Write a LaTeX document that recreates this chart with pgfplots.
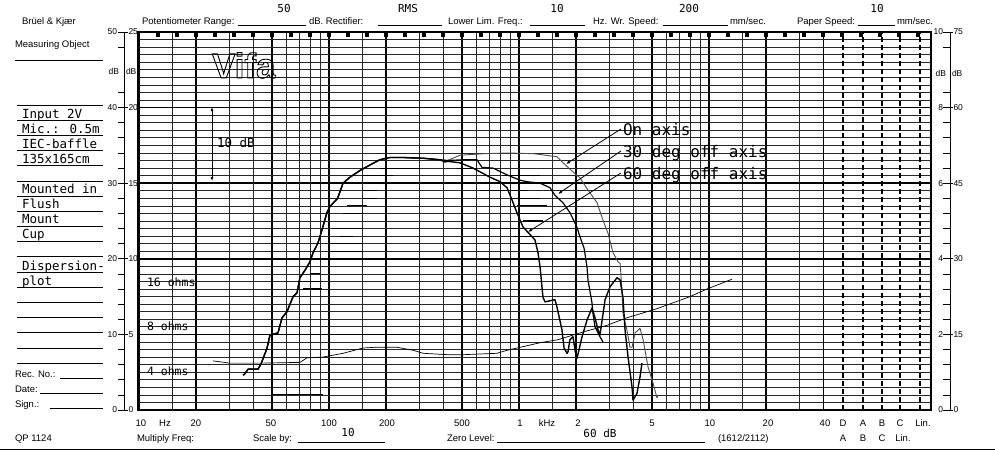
\documentclass[border=0pt]{standalone}
\usepackage{pgfplots}
\pgfplotsset{compat=1.18}
\usepackage{fontspec}
\setmainfont{Liberation Sans}
\newfontfamily\typed{DejaVu Sans Mono}
\usetikzlibrary{arrows.meta}
\newcommand\lab{\fontsize{9.5bp}{11bp}\selectfont}
\newcommand\sml{\fontsize{8.5bp}{10bp}\selectfont}
\newcommand\hdr{\typed\fontsize{11bp}{13bp}\selectfont}
\newcommand\typ{\typed\fontsize{12.5bp}{14bp}\selectfont}
\newcommand\ohm{\typed\fontsize{11.5bp}{13bp}\selectfont}
\newcommand\ann{\typed\fontsize{16bp}{18bp}\selectfont}
\begin{document}
\begin{tikzpicture}
\path[use as bounding box] (0,0) rectangle (995bp,-451bp);
\begin{axis}[
  at={(138bp,-410bp)}, anchor=south west,
  scale only axis, width=793bp, height=378bp,
  xmode=log, xmin=9.88, xmax=147350, ymin=0, ymax=50,
  axis line style={line width=1.5bp, black},
  xtick={10,20,50,100,200,500,1000,2000,5000,10000,20000,40000},
  minor xtick={15,30,40,60,70,80,90,150,300,400,600,700,800,900,1500,3000,4000,6000,7000,8000,9000,15000,30000},
  ytick={0,10,20,30,40,50},
  minor ytick={1,2,...,49},
  xticklabels={}, yticklabels={},
  major tick length=0pt, minor tick length=0pt,
  grid=both,
  major grid style={line width=1.5bp, black},
  minor grid style={line width=0.75bp, black!85},
  extra x ticks={50700,64700,81400,101200,129000},
  extra x tick labels={},
  extra x tick style={xmajorgrids=true, major grid style={line width=1.3bp, black, dash pattern=on 5.5bp off 2.5bp}},
  every axis plot/.append style={no marks, line join=round},
]
% pen-drag hatching strokes along grid lines
\addplot[black, line width=1.1bp, unbounded coords=jump] coordinates {
(185,32) (301,32) (301,nan)
(151,31) (217,31) (217,nan)
(151,30) (179,30) (179,nan)
(151,29) (179,29) (179,nan)
(151,28) (179,28) (179,nan)
(124,27) (158,27) (158,nan)
(118,26) (151,26) (151,nan)
(105,24) (151,24) (151,nan)
(114,23) (134,23) (134,nan)
(101,22) (151,22) (151,nan)
(101,21) (151,21) (151,nan)
(79,18) (90,18) (90,nan)
(70,17) (92,17) (92,nan)
(73,16) (92,16) (92,nan)
(51,2) (93,2) (93,nan)
(472,32) (601,32) (601,nan)
(824,31) (1291,31) (1291,nan)
(1012,30) (1291,30) (1291,nan)
(623,29) (1102,29) (1102,nan)
(930,28) (1291,28) (1291,nan)
(975,27) (1404,27) (1404,nan)
(1012,26) (1456,26) (1456,nan)
(1050,25) (1337,25) (1337,nan)
(623,24) (1050,24) (1050,nan)
(930,23) (1291,23) (1291,nan)
(975,22) (1291,22)
};
% impedance
\addplot[black, line width=0.7bp] coordinates {
(24.5,6.5) (30.1,6.2) (45,6.2) (70.3,6.3) (76.6,6.9) (92.9,7.0) (118.5,7.5) (151,8.2) (175,8.3) (228,8.3) (277,7.9) (313,7.5) (434,7.3) (489,7.3) (766,7.5) (865,7.9) (1291,8.9) (1603,9.3) (2094,10.2) (2904,11.2) (3698,12.2) (5321,13.4) (7943,15.0) (9750,16.0) (12900,17.2) (13210,17.3)
};
% on axis
\addplot[black!70, line width=0.9bp] coordinates {
(35.3,4.6) (36.1,4.8) (37.5,5.4) (42.3,5.4) (43.9,6.1) (47.2,8.2) (48.9,9.9) (53.9,10.2) (56.6,12.2) (60.1,13.0) (64.7,15.0) (67.9,15.5) (70.3,17.5) (74.8,18.5) (79.4,19.6) (82.4,20.8) (87.5,22.1) (91.8,23.8) (97.5,26.1) (101,26.9) (111,28.0) (118.5,30.0) (129,30.8) (146,31.7) (164,32.4) (185,33.1) (209,33.4) (245,33.4) (313,33.3) (384,33.1)
(420,33.0) (489,33.7) (650,33.9) (865,34.0) (1200,33.9) (1585,33.5) (1706,32.7) (1923,31.5) (2094,30.7) (2307,29.1) (2576,27.4) (2767,25.1) (2938,23.4) (3126,20.8) (3320,19.6) (3404,19.4) (3483,15.9) (3524,12.8) (3698,10.6) (3837,8.3) (3936,8.3) (4083,10.2) (4335,10.8) (4498,9.3) (4775,5.7) (5070,3.6) (5321,1.6) (5395,2.0)
};
% 30 deg off axis
\addplot[black, line width=1.2bp] coordinates {
(35.3,4.6) (36.1,4.8) (37.5,5.4) (42.3,5.4) (43.9,6.1) (47.2,8.2) (48.9,9.9) (53.9,10.2) (56.6,12.2) (60.1,13.0) (64.7,15.0) (67.9,15.5) (70.3,17.5) (74.8,18.5) (79.4,19.6) (82.4,20.8) (87.5,22.1) (91.8,23.8) (97.5,26.1) (101,26.9) (111,28.0) (118.5,30.0) (129,30.8) (146,31.7) (164,32.4) (185,33.1) (209,33.4) (245,33.4) (313,33.3) (384,33.1)
(420,33.0) (510,33.1) (601,33.1) (638,32.1) (730,32.0) (865,31.1) (1012,30.4) (1102,30.2) (1291,30.0) (1456,29.4) (1546,28.4) (1706,27.4) (1854,26.1) (2018,24.2) (2094,22.9) (2200,21.4) (2280,18.9) (2307,17.2) (2421,14.2) (2449,12.8) (2512,11.0) (2606,10.2) (2667,9.7) (2767,9.0)
};
% 60 deg off axis
\addplot[black, line width=1.4bp] coordinates {
(35.3,4.6) (36.1,4.8) (37.5,5.4) (42.3,5.4) (43.9,6.1) (47.2,8.2) (48.9,9.9) (53.9,10.2) (56.6,12.2) (60.1,13.0) (64.7,15.0) (67.9,15.5) (70.3,17.5) (74.8,18.5) (79.4,19.6) (82.4,20.8) (87.5,22.1) (91.8,23.8) (97.5,26.1) (101,26.9) (111,28.0) (118.5,30.0) (129,30.8) (146,31.7) (164,32.4) (185,33.1) (209,33.4) (245,33.4) (313,33.3) (384,33.1) (408,32.8)
(420,32.9) (489,32.7) (573,32.0) (703,30.8) (794,30.2) (865,29.4) (918,27.8) (975,26.1) (1050,24.2) (1115,23.5) (1213,22.5) (1259,20.8) (1291,18.9) (1337,14.9) (1371,14.3) (1546,14.6) (1585,13.6) (1683,10.6) (1726,8.2) (1790,7.5) (1811,7.7) (1854,9.3) (1923,9.7) (1972,7.9) (2018,6.8) (2147,9.7) (2280,11.9) (2421,13.5) (2512,12.2) (2606,10.6) (2667,9.9) (2838,14.6) (3013,16.3) (3281,17.5) (3404,17.2) (3524,14.9) (3614,10.6) (3750,7.0) (3936,3.0) (3981,1.3) (4178,2.2) (4335,4.4) (4436,6.2)
};
\end{axis}
% top chart-paper marks (every 1/10 decade, in log10 of Hz)
\begin{axis}[
  at={(138bp,-410bp)}, anchor=south west,
  scale only axis, width=793bp, height=378bp,
  xmin=0.99476, xmax=5.16836, ymin=0, ymax=50,
  axis line style={draw=none},
  xtick={1.1,1.2,...,5.1}, ytick=\empty, xticklabels={},
  xtick pos=right, tick align=inside, major tick length=5bp,
  tick style={line width=3.5bp, black},
]
\end{axis}
\begin{scope}[x=1bp,y=-1bp,every node/.style={inner sep=0pt, outer sep=0pt}]
% header
\node[anchor=base west] at (22,24) {\lab Brüel \& Kjær};
\node[anchor=base west] at (15,47) {\lab Measuring Object};
\draw[line width=0.8bp] (15,60) -- (103,60);
\node[anchor=base west] at (142,24) {\lab Potentiometer Range:};
\draw[line width=0.6bp] (238,25) -- (306,25);
\node[anchor=base] at (284,12) {\hdr 50};
\node[anchor=base west] at (309,24) {\lab dB. Rectifier:};
\draw[line width=0.6bp] (378,25) -- (442,25);
\node[anchor=base] at (408,12) {\hdr RMS};
\node[anchor=base west] at (448,24) {\lab Lower Lim. Freq.:};
\draw[line width=0.6bp] (530,25) -- (585,25);
\node[anchor=base] at (557,12) {\hdr 10};
\node[anchor=base west] at (593,24) {\lab Hz. Wr. Speed:};
\draw[line width=0.6bp] (663,25) -- (728,25);
\node[anchor=base] at (689,12) {\hdr 200};
\node[anchor=base west] at (730,24) {\lab mm/sec.};
\node[anchor=base west] at (797,24) {\lab Paper Speed:};
\draw[line width=0.6bp] (858,25) -- (895,25);
\node[anchor=base] at (877,12) {\hdr 10};
\node[anchor=base west] at (897,24) {\lab mm/sec.};
% logo
\node[anchor=base west] at (212,78) {\fontsize{35bp}{35bp}\selectfont\bfseries\special{pdf:literal direct 1 Tr 0.9 w}Vifa\special{pdf:literal direct 0 Tr}};
% left panel rules and typed entries
\foreach \k in {0,...,17} {\draw[line width=0.7bp] (17,{105+15.18*\k}) -- (103,{105+15.18*\k});}
\node[anchor=base west] at (22,118) {\typ Input 2V};
\node[anchor=base west] at (22,133) {\typ Mic.: 0.5m};
\node[anchor=base west] at (22,148) {\typ IEC-baffle};
\node[anchor=base west] at (22,163) {\typ 135x165cm};
\node[anchor=base west] at (22,193) {\typ Mounted in};
\node[anchor=base west] at (22,208) {\typ Flush};
\node[anchor=base west] at (22,223) {\typ Mount};
\node[anchor=base west] at (22,238) {\typ Cup};
\node[anchor=base west] at (22,270) {\typ Dispersion-};
\node[anchor=base west] at (22,285) {\typ plot};
\node[anchor=base west] at (15,377) {\lab Rec. No.:};
\draw[line width=0.6bp] (60,378) -- (103,378);
\node[anchor=base west] at (15,392) {\lab Date:};
\draw[line width=0.6bp] (40,393) -- (103,393);
\node[anchor=base west] at (15,407) {\lab Sign.:};
\draw[line width=0.6bp] (50,408) -- (103,408);
\node[anchor=base west] at (15,441) {\lab QP 1124};
% left dB scale
\draw[line width=0.8bp] (124,32) -- (124,410);
\foreach \d/\o/\i in {50/50/25,40/40/20,30/30/15,20/20/10,10/10/5,0/0/0} {
  \draw[line width=0.8bp] (118,{410-7.56*\d}) -- (128,{410-7.56*\d});
  \node[anchor=east] at (117,{410-7.56*\d}) {\sml \o};
  \node[anchor=west] at (128.5,{410-7.56*\d}) {\sml \i};
}
\foreach \d in {2,4,6,8,12,14,16,18,22,24,26,28,32,34,36,38,42,48} {
  \draw[line width=0.7bp] (118,{410-7.56*\d}) -- (124,{410-7.56*\d});
}
\node[anchor=east] at (119,71) {\sml dB};
\node[anchor=west] at (126,71) {\sml dB};
% right dB scale
\draw[line width=0.8bp] (950,32) -- (950,410);
\foreach \d/\i/\o in {50/10/75,40/8/60,30/6/45,20/4/30,10/2/15,0/0/0} {
  \draw[line width=0.8bp] (943,{410-7.56*\d}) -- (953,{410-7.56*\d});
  \node[anchor=east] at (943,{410-7.56*\d}) {\sml \i};
  \node[anchor=west] at (953.5,{410-7.56*\d}) {\sml \o};
}
\foreach \d in {2,4,6,8,12,14,16,18,22,24,26,28,32,34,36,38,42,48} {
  \draw[line width=0.7bp] (943,{410-7.56*\d}) -- (950,{410-7.56*\d});
}
\node[anchor=east] at (946,73) {\sml dB};
\node[anchor=west] at (952,73) {\sml dB};
% bottom frequency labels
\foreach \xx/\t in {141/10,165/Hz,196/20,271/50,329/100,387/200,462/500,520/1,547/kHz,578/2,652/5,710/10,768/20,825/40,843/D,863/A,882/B,900/C,923/Lin.} {
  \node[anchor=base] at (\xx,426) {\lab \t};
}
\node[anchor=base west] at (137,441) {\lab Multiply Freq:};
\node[anchor=base west] at (253,441) {\lab Scale by:};
\draw[line width=0.6bp] (298,442) -- (385,442);
\node[anchor=base] at (348,436) {\hdr 10};
\node[anchor=base west] at (447,441) {\lab Zero Level:};
\draw[line width=0.6bp] (497,442) -- (705,442);
\node[anchor=base] at (600,437) {\hdr 60 dB};
\node[anchor=base west] at (718,441) {\lab (1612/2112)};
\foreach \xx/\t in {843/A,863/B,882/C,903/Lin.} {
  \node[anchor=base] at (\xx,441) {\lab \t};
}
% annotations
\draw[{Latex[length=4bp,width=3bp]}-{Latex[length=4bp,width=3bp]}, line width=0.8bp] (212,107) -- (212,181);
\node[anchor=base west] at (217,147) {\typ 10 dB};
\node[anchor=base west] at (147,286) {\ohm 16 ohms};
\node[anchor=base west] at (147,330) {\ohm 8 ohms};
\node[anchor=base west] at (147,375) {\ohm 4 ohms};
\node[anchor=base west] at (623,135) {\ann On axis};
\node[anchor=base west] at (623,157) {\ann 30 deg off axis};
\node[anchor=base west] at (623,179) {\ann 60 deg off axis};
\draw[-{Latex[length=4bp,width=3bp]}, line width=0.8bp] (621,129) -- (566,164);
\draw[-{Latex[length=4bp,width=3bp]}, line width=0.8bp] (621,151) -- (558,194);
\draw[-{Latex[length=4bp,width=3bp]}, line width=0.8bp] (621,173) -- (528,232);
% paper edge
\draw[line width=1.5bp] (0,449.5) -- (995,449.5);
\end{scope}
\end{tikzpicture}
\end{document}
